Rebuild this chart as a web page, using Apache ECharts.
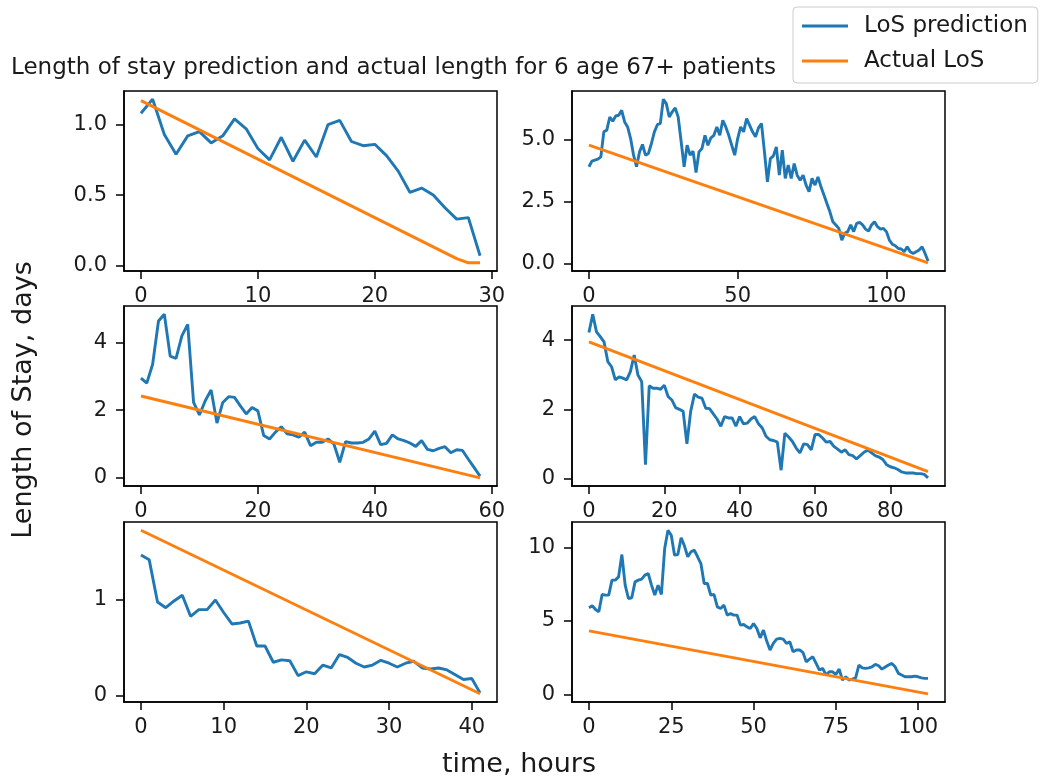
<!DOCTYPE html>
<html>
<head>
<meta charset="utf-8">
<script src="https://cdn.jsdelivr.net/npm/echarts@6/dist/echarts.min.js"></script>
<style>
  html, body { margin: 0; padding: 0; background: #fff; }
  #chart { width: 1040px; height: 783px; }
</style>
</head>
<body>
<div id="chart"></div>
<script>
// Predicted length of stay (days) per hour since admission, one array per patient
const pred1 = [1.08,1.18,0.93,0.79,0.92,0.95,0.87,0.92,1.04,0.97,
  0.83,0.75,0.91,0.74,0.89,0.77,1.0,1.03,0.88,0.85,
  0.86,0.78,0.67,0.52,0.55,0.5,0.41,0.33,0.34,0.07];
const pred2 = [3.9,4.13,4.17,4.21,4.3,5.31,5.38,5.91,5.74,5.95,
  5.98,6.18,5.71,5.51,5.04,4.37,3.9,4.5,4.8,4.37,
  4.44,4.84,5.31,5.6,5.65,6.63,6.45,5.91,6.12,6.28,
  5.91,4.91,3.9,4.77,4.37,4.53,3.67,4.5,4.64,5.17,
  4.77,5.07,5.17,5.51,5.17,5.78,5.51,5.17,4.77,4.37,
  5.04,5.51,5.31,5.85,5.58,5.31,5.11,5.47,5.65,4.5,
  3.29,4.23,4.34,4.7,3.56,4.57,3.43,3.97,3.43,4.03,
  3.56,3.36,3.56,3.16,2.89,3.43,3.16,3.49,3.09,2.76,
  2.42,2.08,1.68,1.55,1.41,0.94,1.21,1.28,1.55,1.28,
  1.61,1.65,1.55,1.38,1.3,1.55,1.68,1.48,1.38,1.41,
  1.28,0.94,0.77,0.71,0.6,0.58,0.47,0.67,0.47,0.4,
  0.47,0.54,0.67,0.4,0.09];
const pred3 = [2.95,2.8,3.36,4.64,4.84,3.6,3.53,4.2,4.54,2.23,
  1.86,2.28,2.6,1.62,2.23,2.4,2.38,2.13,1.89,2.08,
  1.98,1.25,1.15,1.35,1.51,1.3,1.27,1.2,1.35,0.95,
  1.05,1.05,1.15,1.0,0.46,1.07,1.03,1.03,1.05,1.15,
  1.38,0.98,1.02,1.27,1.15,1.1,1.03,0.93,1.1,0.84,
  0.8,0.87,0.92,0.74,0.83,0.81,0.55,0.3,0.05];
const pred4 = [4.22,4.75,4.24,4.1,3.95,3.38,3.23,2.85,2.94,2.9,
  2.85,3.09,3.57,2.99,2.8,0.4,2.68,2.61,2.61,2.58,
  2.7,2.37,2.27,2.05,2.0,1.94,1.0,1.94,2.44,2.35,
  2.32,2.03,2.02,1.87,1.72,1.51,1.79,1.75,1.75,1.51,
  1.79,1.58,1.6,1.72,1.79,1.58,1.46,1.22,1.12,1.1,
  1.05,0.24,1.31,1.2,1.07,0.88,0.74,1.0,0.98,0.83,
  1.27,1.27,1.17,1.05,1.07,0.93,0.85,0.76,0.83,0.69,
  0.66,0.57,0.66,0.76,0.82,0.74,0.66,0.62,0.55,0.4,
  0.34,0.31,0.26,0.19,0.16,0.16,0.16,0.14,0.14,0.12,
  0.02];
const pred5 = [1.47,1.42,0.98,0.92,0.99,1.05,0.83,0.9,0.9,1.0,
  0.87,0.75,0.76,0.78,0.52,0.52,0.35,0.375,0.365,0.21,
  0.25,0.23,0.32,0.29,0.43,0.4,0.34,0.3,0.32,0.37,
  0.34,0.3,0.34,0.36,0.29,0.28,0.29,0.27,0.22,0.17,
  0.18,0.03];
const pred6 = [5.9,6.03,5.78,5.62,6.8,6.76,6.76,7.78,7.78,8.0,
  9.52,7.44,6.53,6.58,7.66,7.78,7.85,8.12,8.23,7.44,
  6.76,7.44,6.8,9.93,11.18,10.84,9.48,9.52,10.66,10.11,
  9.37,9.71,9.82,9.37,8.91,7.55,7.55,6.76,6.8,5.96,
  5.85,6.08,5.4,5.51,5.4,5.4,4.72,4.76,4.6,4.49,
  4.83,4.49,3.85,4.38,3.63,3.02,3.47,3.76,3.81,3.76,
  3.47,3.58,2.9,3.02,3.02,2.86,2.22,2.4,2.56,2.11,
  1.66,1.77,1.32,1.54,1.54,1.36,1.72,0.98,1.2,0.98,
  1.04,1.13,2.0,1.81,1.77,1.81,1.88,2.04,1.95,1.72,
  1.86,2.0,2.11,1.88,1.43,1.32,1.2,1.2,1.2,1.25,
  1.2,1.13,1.09,1.09];

// Actual remaining length of stay: [hour, days] breakpoints of each straight line
const actual1 = [[0, 1.17], [27, 0.05], [28, 0.02], [29, 0.02]];
const actual2 = [[0, 4.77], [114, 0.02]];
const actual3 = [[0, 2.42], [58, 0.0]];
const actual4 = [[0, 3.95], [90, 0.2]];
const actual5 = [[0, 1.73], [41, 0.02]];
const actual6 = [[0, 4.33], [103, 0.04]];

// Tick values per panel
const xTicks1 = [0, 10, 20, 30];
const xTicks2 = [0, 50, 100];
const xTicks3 = [0, 20, 40, 60];
const xTicks4 = [0, 20, 40, 60, 80];
const xTicks5 = [0, 10, 20, 30, 40];
const xTicks6 = [0, 25, 50, 75, 100];
const yTicks1 = [0, 0.5, 1.0];
const yTicks2 = [0, 2.5, 5.0];
const yTicks3 = [0, 2, 4];
const yTicks4 = [0, 2, 4];
const yTicks5 = [0, 1];
const yTicks6 = [0, 5, 10];

const seriesNames = ['LoS prediction', 'Actual LoS'];
const chartTitle = 'Length of stay prediction and actual length for 6 age 67+ patients';
const yTitle = 'Length of Stay, days';
const xTitle = 'time, hours';

const BLUE = '#1f77b4';
const ORANGE = '#ff7f0e';
const INK = '#1a1a1a';
const FONT = 'DejaVu Sans';

const panels = [
  { pred: pred1, actual: actual1, xt: xTicks1, yt: yTicks1, dec: 1 },
  { pred: pred2, actual: actual2, xt: xTicks2, yt: yTicks2, dec: 1 },
  { pred: pred3, actual: actual3, xt: xTicks3, yt: yTicks3, dec: 0 },
  { pred: pred4, actual: actual4, xt: xTicks4, yt: yTicks4, dec: 0 },
  { pred: pred5, actual: actual5, xt: xTicks5, yt: yTicks5, dec: 0 },
  { pred: pred6, actual: actual6, xt: xTicks6, yt: yTicks6, dec: 0 }
];

// 3 x 2 subplot layout
const colLeft = [124, 572];
const rowTop = [91, 306, 522];
const cellW = 373, cellH = 180;

// 5% padding around the data extent, like the plotting default
function padded(lo, hi) {
  const r = hi - lo;
  return [lo - 0.05 * r, hi + 0.05 * r];
}

const grids = [], xAxes = [], yAxes = [], series = [];
panels.forEach((p, i) => {
  const row = Math.floor(i / 2), col = i % 2;
  grids.push({
    left: colLeft[col], top: rowTop[row], width: cellW, height: cellH,
    show: true, borderColor: '#000', borderWidth: 1.5, backgroundColor: 'transparent'
  });
  const predPts = p.pred.map((v, t) => [t, v]);
  const allX = predPts.map(d => d[0]).concat(p.actual.map(d => d[0]));
  const allY = predPts.map(d => d[1]).concat(p.actual.map(d => d[1]));
  const xr = padded(Math.min(...allX), Math.max(...allX));
  const yr = padded(Math.min(...allY), Math.max(...allY));
  const axisLine = { show: true, onZero: false, lineStyle: { color: '#000', width: 1.5 } };
  xAxes.push({
    type: 'value', gridIndex: i, min: xr[0], max: xr[1],
    axisLine,
    axisTick: { show: true, length: 8, inside: false, customValues: p.xt, lineStyle: { color: '#000', width: 1.5 } },
    axisLabel: { customValues: p.xt, fontSize: 21, fontFamily: FONT, color: INK, margin: 15 },
    splitLine: { show: false }
  });
  yAxes.push({
    type: 'value', gridIndex: i, min: yr[0], max: yr[1],
    axisLine,
    axisTick: { show: true, length: 8, inside: false, customValues: p.yt, lineStyle: { color: '#000', width: 1.5 } },
    axisLabel: {
      customValues: p.yt, fontSize: 21, fontFamily: FONT, color: INK, margin: 17,
      formatter: v => Number(v).toFixed(p.dec)
    },
    splitLine: { show: false }
  });
  series.push({
    name: seriesNames[0], type: 'line', xAxisIndex: i, yAxisIndex: i,
    data: predPts, showSymbol: false, symbol: 'none',
    lineStyle: { color: BLUE, width: 2.9 }, itemStyle: { color: BLUE },
    animation: false, z: 3
  });
  series.push({
    name: seriesNames[1], type: 'line', xAxisIndex: i, yAxisIndex: i,
    data: p.actual, showSymbol: false, symbol: 'none',
    lineStyle: { color: ORANGE, width: 2.9 }, itemStyle: { color: ORANGE },
    animation: false, z: 4
  });
});

const chart = echarts.init(document.getElementById('chart'), null, { renderer: 'canvas' });
chart.setOption({
  backgroundColor: '#fff',
  animation: false,
  grid: grids,
  xAxis: xAxes,
  yAxis: yAxes,
  series: series,
  legend: {
    data: seriesNames,
    orient: 'vertical',
    left: 793, top: 7,
    icon: 'rect', itemWidth: 46, itemHeight: 3, itemGap: 9,
    padding: [6, 10, 9, 9],
    borderColor: '#cccccc', borderWidth: 1, borderRadius: 4,
    backgroundColor: '#fff',
    textStyle: { fontSize: 23, fontFamily: FONT, color: INK, lineHeight: 26, padding: [0, 0, 0, 11] },
    selectedMode: false
  },
  graphic: [
    { type: 'text', x: 11, y: 68,
      style: { text: chartTitle, font: '23px "' + FONT + '"', fill: INK, align: 'left', verticalAlign: 'middle' } },
    { type: 'text', x: 24, y: 400, rotation: Math.PI / 2,
      style: { text: yTitle, font: '27px "' + FONT + '"', fill: INK, align: 'center', verticalAlign: 'middle' } },
    { type: 'text', x: 519, y: 765,
      style: { text: xTitle, font: '27px "' + FONT + '"', fill: INK, align: 'center', verticalAlign: 'middle' } }
  ]
});
</script>
</body>
</html>
